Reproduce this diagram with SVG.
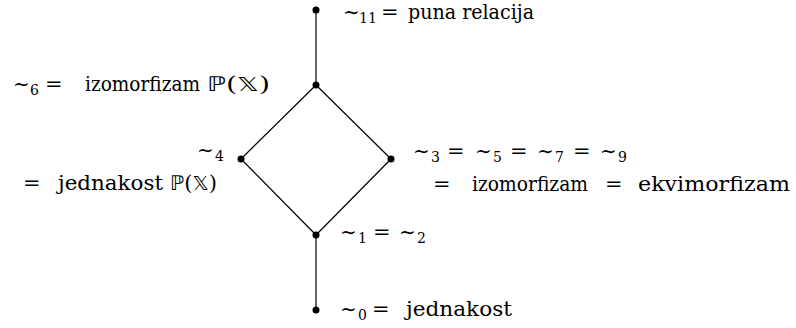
<svg xmlns="http://www.w3.org/2000/svg" width="796" height="328" viewBox="0 0 796 328">
<style>
text{font-family:'DejaVu Serif','Liberation Serif',serif;font-size:21px;fill:#000}
.s{font-size:14px}
.m{font-size:20px}
.q{font-size:21px}
.b{font-family:'DejaVu Sans','DejaVu Serif',sans-serif;font-size:20px}
.e{stroke:#000;stroke-width:1.2;fill:none}
.d{fill:#000}
</style>
<rect width="796" height="328" fill="#fff"/>
<g id="connectors">
<line class="e" x1="316" y1="10" x2="316" y2="85"/>
<line class="e" x1="316" y1="85" x2="241" y2="159"/>
<line class="e" x1="316" y1="85" x2="391" y2="159"/>
<line class="e" x1="241" y1="159" x2="316" y2="235"/>
<line class="e" x1="391" y1="159" x2="316" y2="235"/>
<line class="e" x1="316" y1="235" x2="316" y2="310"/>
</g>
<g id="n11">
<circle class="d" cx="316" cy="10" r="3.5"/>
<text x="343" y="19" class="m">∼</text><text x="359" y="23" class="s">11</text>
<text x="381" y="19" class="q">=</text>
<text x="408" y="19" textLength="126" lengthAdjust="spacingAndGlyphs">puna relacija</text>
</g>
<g id="n6">
<circle class="d" cx="316" cy="85" r="3.5"/>
<text x="13" y="91" class="m">∼</text><text x="30" y="95" class="s">6</text>
<text x="45" y="91" class="q">=</text>
<text x="85" y="91" textLength="115" lengthAdjust="spacingAndGlyphs">izomorfizam</text>
<text x="207" y="91" textLength="63" lengthAdjust="spacingAndGlyphs"><tspan class="b">ℙ</tspan>(<tspan class="b">𝕏</tspan>)</text>
</g>
<g id="n4">
<circle class="d" cx="241" cy="159" r="3.5"/>
<text x="197" y="157" class="m">∼</text><text x="215" y="161" class="s">4</text>
<text x="23" y="190" class="q">=</text>
<text x="58" y="190" textLength="105" lengthAdjust="spacingAndGlyphs">jednakost</text>
<text x="170" y="190" textLength="47" lengthAdjust="spacingAndGlyphs"><tspan class="b">ℙ</tspan>(<tspan class="b">𝕏</tspan>)</text>
</g>
<g id="n3">
<circle class="d" cx="391" cy="159" r="3.5"/>
<text x="413" y="158" class="m">∼</text><text x="431" y="162" class="s">3</text>
<text x="447" y="158" class="q">=</text>
<text x="475" y="158" class="m">∼</text><text x="493" y="162" class="s">5</text>
<text x="510" y="158" class="q">=</text>
<text x="537" y="158" class="m">∼</text><text x="555" y="162" class="s">7</text>
<text x="573" y="158" class="q">=</text>
<text x="600" y="158" class="m">∼</text><text x="618" y="162" class="s">9</text>
<text x="433" y="191" class="q">=</text>
<text x="472" y="191" textLength="116" lengthAdjust="spacingAndGlyphs">izomorfizam</text>
<text x="605" y="191" class="q">=</text>
<text x="638" y="191" textLength="152" lengthAdjust="spacingAndGlyphs">ekvimorfizam</text>
</g>
<g id="n1">
<circle class="d" cx="316" cy="235" r="3.5"/>
<text x="340" y="239" class="m">∼</text><text x="358" y="243" class="s">1</text>
<text x="373" y="239" class="q">=</text>
<text x="399" y="239" class="m">∼</text><text x="417" y="243" class="s">2</text>
</g>
<g id="n0">
<circle class="d" cx="316" cy="310" r="3.5"/>
<text x="340" y="316" class="m">∼</text><text x="358" y="320" class="s">0</text>
<text x="372" y="316" class="q">=</text>
<text x="406" y="316" textLength="106" lengthAdjust="spacingAndGlyphs">jednakost</text>
</g>
</svg>
